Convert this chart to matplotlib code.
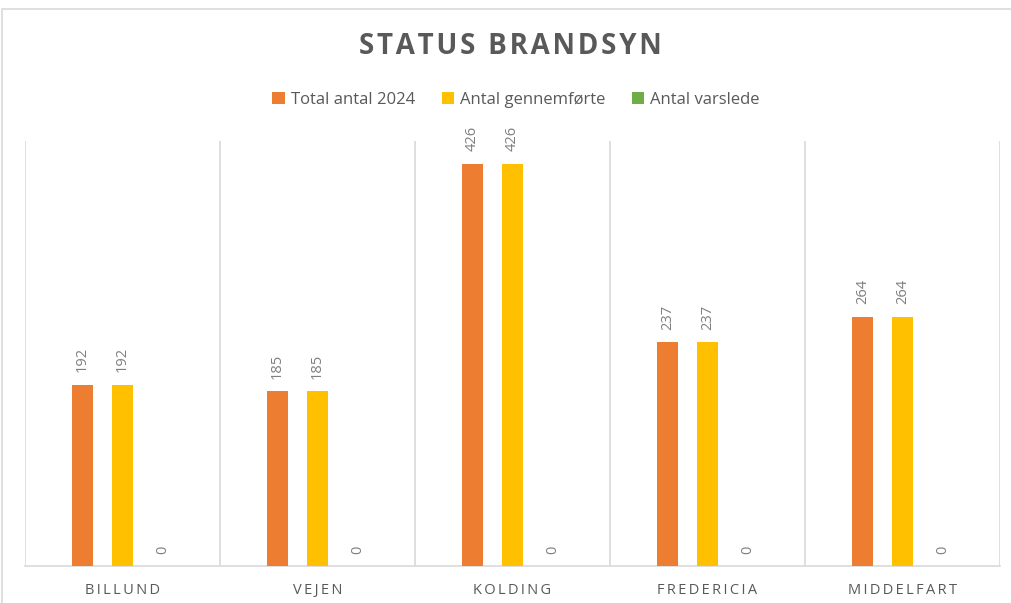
import matplotlib
matplotlib.use('Agg')
import matplotlib.pyplot as plt
from matplotlib.patches import Rectangle
import numpy as np

plt.rcParams['font.family'] = ['Open Sans', 'DejaVu Sans']

# Data
categories = ['BILLUND', 'VEJEN', 'KOLDING', 'FREDERICIA', 'MIDDELFART']
total_2024 = [192, 185, 426, 237, 264]
gennemfoerte = [192, 185, 426, 237, 264]
varslede = [0, 0, 0, 0, 0]
series_names = ['Total antal 2024', 'Antal gennemførte', 'Antal varslede']
series_colors = ['#ED7D31', '#FFC000', '#70AD47']

TEXT_GRAY = '#595959'
LINE_GRAY = '#D9D9D9'

fig = plt.figure(figsize=(10.12, 6.03), dpi=100)
ax = fig.add_axes([25 / 1012, (603 - 566) / 603, 975 / 1012, (566 - 141) / 603])

# Outer chart border (only top/left visible in the reference)
fig.patches.append(Rectangle((2 / 1012, -0.1), 1.2, (603 - 9) / 603 + 0.1,
                             transform=fig.transFigure, fill=False,
                             edgecolor='#D9D9D9', linewidth=1.2))

x = np.arange(len(categories))
offset = 0.205
width = 0.108
all_series = [total_2024, gennemfoerte, varslede]
for i, (vals, name, col) in enumerate(zip(all_series, series_names, series_colors)):
    pos = x + (i - 1) * offset
    ax.bar(pos, vals, width=width, color=col, label=name, zorder=3)
    for p, v in zip(pos, vals):
        ax.text(p, v + 13, str(v), rotation=90, ha='center', va='bottom',
                fontsize=10.5, color='#7F7F7F')

ax.set_xlim(-0.5, len(categories) - 0.5)
ax.set_ylim(0, 450)
ax.set_yticks([])
ax.set_xticks(x)
ax.set_xticklabels(['\u2009'.join(c) for c in categories],
                   fontsize=10.5, color=TEXT_GRAY)
ax.tick_params(axis='x', length=0, pad=12)

# vertical separators between categories
for b in np.arange(-0.5, len(categories), 1.0):
    ax.axvline(b, color=LINE_GRAY, linewidth=1.2, zorder=1)

for side in ['top', 'left', 'right']:
    ax.spines[side].set_visible(False)
ax.spines['bottom'].set_color(LINE_GRAY)
ax.spines['bottom'].set_linewidth(1.2)

fig.text(510 / 1012, 1 - 47 / 603, '\u200a'.join('STATUS BRANDSYN'), ha='center', va='center',
         fontsize=20, fontweight='bold', color=TEXT_GRAY)

leg = fig.legend(loc='center', bbox_to_anchor=(516 / 1012, 1 - 100 / 603), ncol=3,
                 frameon=False, fontsize=12, handlelength=0.75, handleheight=0.75,
                 handletextpad=0.35, columnspacing=1.6)
for t in leg.get_texts():
    t.set_color(TEXT_GRAY)

fig.savefig('out.png', dpi=100, facecolor='white')
